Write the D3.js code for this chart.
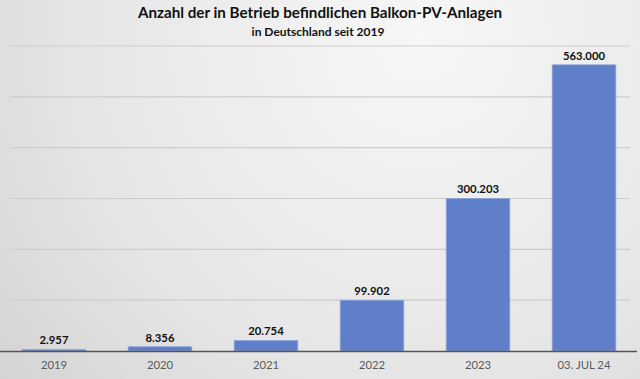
<!DOCTYPE html>
<html><head><meta charset="utf-8">
<script src="https://cdn.jsdelivr.net/npm/d3@7"></script>
<style>html,body{margin:0;padding:0;overflow:hidden;}svg{display:block;}</style>
</head><body>
<svg id="c" width="640" height="379"></svg>
<script>
const categories = ["2019","2020","2021","2022","2023","03. JUL 24"];
const values = [2957, 8356, 20754, 99902, 300203, 563000];
const valueLabels = ["2.957","8.356","20.754","99.902","300.203","563.000"];
const gridTicks = [100000, 200000, 300000, 400000, 500000, 600000];
const title = "Anzahl der in Betrieb befindlichen Balkon-PV-Anlagen";
const subtitle = "in Deutschland seit 2019";

const W = 640, H = 379;
const svg = d3.select("#c");
const defs = svg.append("defs");
const rg = defs.append("radialGradient").attr("id","bg")
  .attr("gradientUnits","userSpaceOnUse").attr("cx",420).attr("cy",40).attr("r",560);
rg.append("stop").attr("offset","0").attr("stop-color","#f7f7f7");
rg.append("stop").attr("offset","0.6").attr("stop-color","#e6e6e6");
rg.append("stop").attr("offset","1").attr("stop-color","#d2d2d2");
svg.append("rect").attr("width",W).attr("height",H).attr("fill","url(#bg)");

const x = d3.scaleBand().domain(categories).range([1, 637]).paddingInner(0.4).paddingOuter(0.2);
const y = d3.scaleLinear().domain([0, 600000]).range([351, 46]);

const font = "Lato, 'Open Sans', sans-serif";

// gridlines
svg.append("g").selectAll("line").data(gridTicks).join("line")
  .attr("x1", 10).attr("x2", 630)
  .attr("y1", d => y(d)).attr("y2", d => y(d))
  .attr("stroke", "#cdcdcd").attr("stroke-width", 1.2);

// bars
svg.append("g").selectAll("rect").data(values).join("rect")
  .attr("x", (d,i) => x(categories[i]))
  .attr("width", x.bandwidth())
  .attr("y", d => y(d))
  .attr("height", d => y(0) - y(d))
  .attr("fill", "#5f7fc9")
  .attr("stroke", "#8ea6da").attr("stroke-width", 0.8);

// axis
const xAxis = d3.axisBottom(x).tickSize(0).tickPadding(10);
const ax = svg.append("g").attr("transform", `translate(0,${y(0)})`).call(xAxis);
ax.select(".domain").attr("stroke", "#555").attr("stroke-width", 1.3).attr("d", "M0,0.5H637");
ax.selectAll("text").attr("font-family", font).attr("font-size", 11.3).attr("fill", "#595959");

// value labels
svg.append("g").selectAll("text").data(values).join("text")
  .attr("x", (d,i) => x(categories[i]) + x.bandwidth()/2)
  .attr("y", d => y(d) - 5)
  .attr("text-anchor", "middle")
  .attr("font-family", font).attr("font-weight", "bold").attr("font-size", 11.3)
  .attr("fill", "#111")
  .text((d,i) => valueLabels[i]);

// titles
svg.append("text").attr("x", 320).attr("y", 18).attr("text-anchor","middle")
  .attr("font-family", font).attr("font-weight","bold").attr("font-size", 15.2).attr("fill","#111")
  .text(title);
svg.append("text").attr("x", 318).attr("y", 36).attr("text-anchor","middle")
  .attr("font-family", font).attr("font-weight","bold").attr("font-size", 12).attr("fill","#111")
  .text(subtitle);
</script>
</body></html>
